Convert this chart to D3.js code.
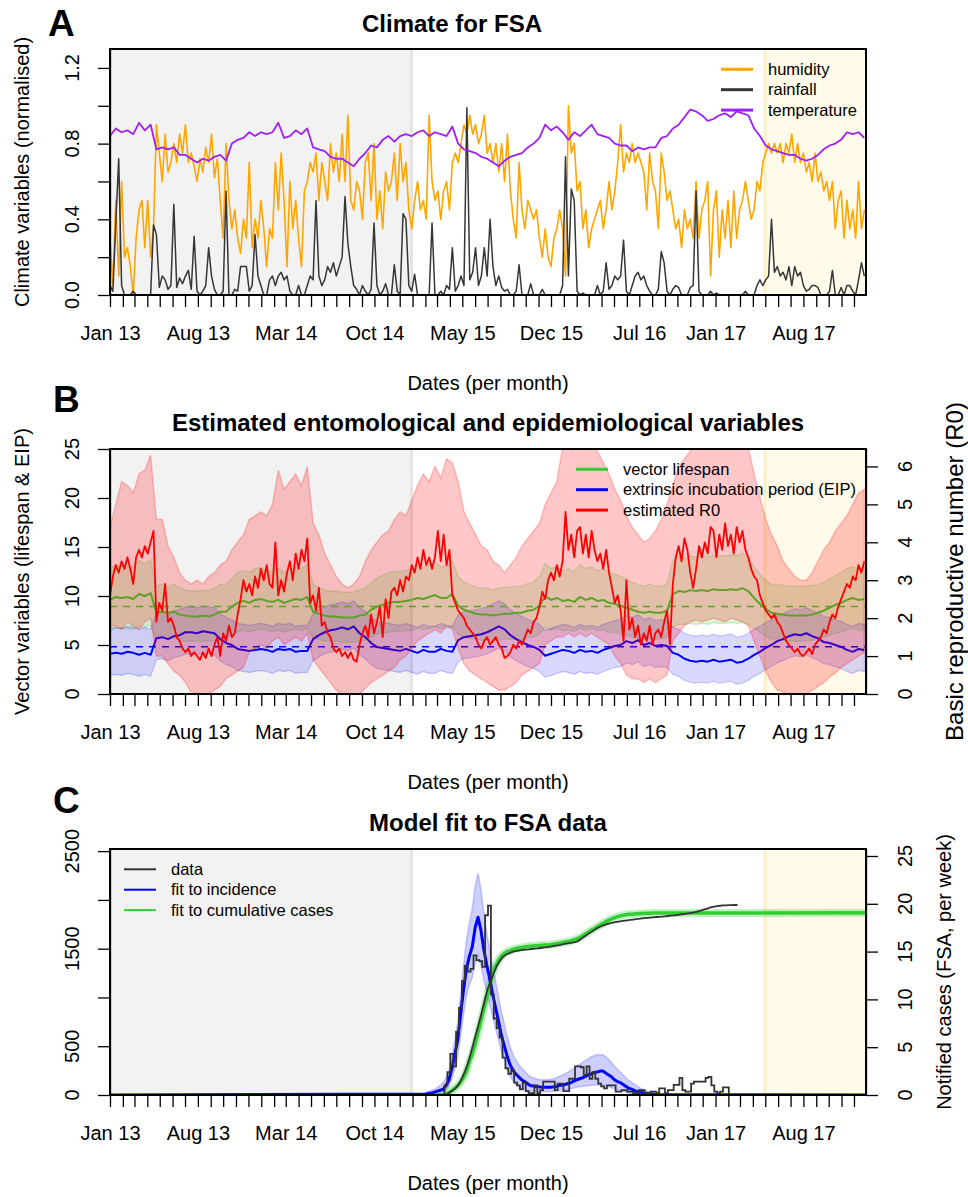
<!DOCTYPE html>
<html>
<head>
<meta charset="utf-8">
<script src="https://cdn.jsdelivr.net/npm/d3@7"></script>
<style>
  body { margin: 0; background: #fff; }
  svg text { font-family: "Liberation Sans", Arial, Helvetica, sans-serif; fill: #000; }
</style>
</head>
<body>
<div id="chart"></div>
<script>
// ---- data ----
// weekly climate series, first value 1 Jan 2013
var humidity = [
  0.3, 0.05, 0.5, 0.1, 0.6, 0.2, 0.25, 0.15, 0.0, 0.3,
  0.45, 0.5, 0.25, 0.5, 0.2, 0.35, 0.9, 0.75, 0.6, 0.85,
  0.65, 0.7, 0.8, 0.7, 0.85, 0.75, 0.9, 0.7, 0.75, 0.68,
  0.6, 0.72, 0.65, 0.78, 0.7, 0.85, 0.62, 0.72, 0.5, 0.3,
  0.8, 0.5, 0.35, 0.45, 0.3, 0.22, 0.4, 0.3, 0.7, 0.25,
  0.4, 0.3, 0.5, 0.35, 0.15, 0.35, 0.3, 0.7, 0.45, 0.75,
  0.5, 0.15, 0.6, 0.35, 0.5, 0.3, 0.15, 0.55, 0.6, 0.7,
  0.65, 0.75, 0.5, 0.7, 0.6, 0.5, 0.8, 0.65, 0.75, 0.6,
  0.85, 0.6, 0.95, 0.5, 0.45, 0.6, 0.55, 0.4, 0.7, 0.75,
  0.5, 0.8, 0.4, 0.55, 0.35, 0.65, 0.55, 0.6, 0.75, 0.5,
  0.8, 0.6, 0.7, 0.45, 0.35, 0.5, 0.6, 0.45, 0.5, 0.4,
  0.95, 0.6, 0.5, 0.55, 0.4, 0.55, 0.6, 0.45, 0.7, 0.75,
  0.7, 0.8, 0.9, 0.85, 0.95, 0.85, 0.9, 0.8, 0.85, 0.95,
  0.75, 0.8, 0.7, 0.8, 0.65, 0.8, 0.6, 0.85, 0.55, 0.4,
  0.3, 0.7, 0.45, 0.35, 0.5, 0.45, 0.4, 0.45, 0.3, 0.2,
  0.35, 0.2, 0.15, 0.3, 0.35, 0.45, 0.35, 0.1, 1.0, 0.75,
  0.8, 0.55, 0.6, 0.35, 0.45, 0.25, 0.35, 0.4, 0.45, 0.5,
  0.35, 0.45, 0.6, 0.45, 0.55, 0.7, 0.9, 0.65, 0.75, 0.7,
  0.8, 0.7, 0.75, 0.7, 0.65, 0.45, 0.75, 0.6, 0.55, 0.35,
  0.75, 0.65, 0.5, 0.55, 0.45, 0.35, 0.4, 0.25, 0.45, 0.35,
  0.4, 0.3, 0.6, 0.3, 0.45, 0.5, 0.6, 0.1, 0.45, 0.55,
  0.2, 0.45, 0.3, 0.5, 0.25, 0.55, 0.3, 0.45, 0.5, 0.6,
  0.5, 0.4, 0.45, 0.6, 0.55, 0.7, 0.75, 0.8, 0.75, 0.8,
  0.75, 0.8, 0.7, 0.8, 0.75, 0.85, 0.7, 0.8, 0.7, 0.75,
  0.65, 0.7, 0.6, 0.75, 0.6, 0.65, 0.55, 0.6, 0.5, 0.6,
  0.35, 0.5, 0.55, 0.3, 0.5, 0.35, 0.45, 0.3, 0.6, 0.35,
  0.45
];
var rainfall = [
  0.05, 0.02, 0.38, 0.72, 0.05, 0, 0, 0, 0.02, 0,
  0, 0, 0, 0, 0, 0.37, 0.32, 0.04, 0.1, 0.08,
  0.03, 0.05, 0.48, 0.04, 0.09, 0.06, 0.1, 0.13, 0.03, 0.31,
  0.02, 0, 0.02, 0.05, 0.25, 0.1, 0.03, 0, 0, 0.02,
  0.55, 0, 0, 0.03, 0.02, 0.15, 0.15, 0.15, 0.02, 0.05,
  0.32, 0.1, 0.05, 0, 0, 0.08, 0.1, 0.05, 0.1, 0.12,
  0.08, 0.1, 0.02, 0, 0, 0.05, 0, 0, 0.05, 0.1,
  0.08, 0.5, 0.1, 0.05, 0.08, 0.15, 0.12, 0.17, 0.1, 0.15,
  0.2, 0.52, 0.27, 0.15, 0.05, 0.03, 0, 0.05, 0.02, 0,
  0.03, 0.38, 0.05, 0, 0.02, 0.06, 0, 0, 0.16, 0.02,
  0, 0.43, 0.4, 0.05, 0.02, 0.11, 0, 0, 0, 0,
  0, 0.38, 0, 0, 0.02, 0, 0.05, 0.03, 0.25, 0.02,
  0.05, 0.1, 0.05, 0.99, 0.08, 0.12, 0.25, 0.05, 0.1, 0.25,
  0.1, 0.4, 0.15, 0.05, 0.1, 0.04, 0.02, 0.03, 0, 0,
  0.02, 0.16, 0, 0, 0, 0.06, 0, 0, 0, 0.03,
  0, 0, 0, 0, 0, 0, 0.05, 0.73, 0.1, 0.56,
  0.5, 0.02, 0, 0.01, 0, 0, 0, 0, 0.05, 0,
  0.02, 0.17, 0.03, 0.05, 0.1, 0.08, 0.1, 0.29, 0.02, 0,
  0.05, 0.1, 0.12, 0.08, 0.1, 0.05, 0.02, 0, 0, 0.03,
  0.23, 0.17, 0.02, 0, 0.03, 0.05, 0.04, 0, 0, 0,
  0.04, 0.05, 0.55, 0.02, 0, 0, 0, 0.02, 0, 0.01,
  0, 0, 0, 0, 0, 0, 0, 0, 0, 0.02,
  0, 0, 0, 0.05, 0.08, 0.05, 0.08, 0.1, 0.4, 0.12,
  0.15, 0.1, 0.12, 0.08, 0.15, 0.05, 0.15, 0.1, 0.12, 0.05,
  0.02, 0.03, 0.05, 0.05, 0.04, 0, 0, 0, 0.02, 0.13,
  0, 0, 0.04, 0, 0.05, 0.05, 0.02, 0, 0.08, 0.17,
  0.1
];
// fortnightly series, first value 1 Jan 2013
var temperature = [
  0.84, 0.88, 0.86, 0.87, 0.85, 0.91, 0.87, 0.9, 0.77, 0.78,
  0.77, 0.78, 0.74, 0.74, 0.72, 0.7, 0.72, 0.71, 0.73, 0.74,
  0.71, 0.8, 0.82, 0.83, 0.86, 0.84, 0.86, 0.85, 0.86, 0.91,
  0.83, 0.84, 0.87, 0.85, 0.88, 0.78, 0.77, 0.76, 0.73, 0.72,
  0.72, 0.7, 0.68, 0.72, 0.75, 0.79, 0.78, 0.82, 0.84, 0.81,
  0.84, 0.85, 0.84, 0.86, 0.87, 0.84, 0.86, 0.85, 0.84, 0.89,
  0.8, 0.77, 0.76, 0.75, 0.73, 0.72, 0.7, 0.68, 0.71, 0.73,
  0.74, 0.75, 0.78, 0.8, 0.83, 0.9, 0.87, 0.89, 0.86, 0.82,
  0.86, 0.84, 0.87, 0.9, 0.85, 0.84, 0.83, 0.8, 0.79, 0.79,
  0.76, 0.78, 0.77, 0.78, 0.78, 0.83, 0.84, 0.88, 0.9, 0.94,
  0.98, 0.97, 0.95, 0.92, 0.93, 0.95, 0.96, 0.94, 0.97, 0.96,
  0.95, 0.88, 0.84, 0.79, 0.77, 0.76, 0.75, 0.74, 0.74, 0.72,
  0.71, 0.72, 0.74, 0.77, 0.79, 0.8, 0.82, 0.86, 0.85, 0.86,
  0.83
];
var lifespan = [
  9.6, 9.9, 9.8, 9.9, 9.7, 10.2, 10.0, 10.3, 8.3, 8.4,
  8.3, 8.4, 8.1, 8.0, 7.9, 7.9, 8.0, 7.9, 8.1, 8.4,
  8.4, 8.9, 9.3, 9.5, 9.3, 9.6, 9.7, 9.5, 9.4, 9.6,
  9.3, 9.5, 9.7, 9.6, 9.9, 8.4, 8.2, 8.0, 7.9, 7.9,
  7.8, 7.8, 7.8, 8.0, 8.1, 8.6, 8.9, 9.1, 9.3, 9.4,
  9.4, 9.5, 9.6, 9.8, 9.7, 9.9, 10.1, 9.8, 9.8, 10.2,
  9.0, 8.6, 8.4, 8.2, 8.1, 8.1, 8.0, 8.1, 8.2, 8.2,
  8.3, 8.3, 8.5, 8.6, 9.0, 10.0, 9.6, 9.8, 9.5, 9.6,
  9.4, 9.9, 9.6, 9.8, 9.5, 9.6, 9.3, 9.2, 9.0, 8.8,
  8.6, 8.4, 8.3, 8.4, 8.3, 8.3, 8.5, 10.2, 10.5, 10.4,
  10.6, 10.5, 10.6, 10.5, 10.7, 10.6, 10.6, 10.7, 10.6, 10.8,
  10.5, 9.8, 9.2, 8.7, 8.3, 8.2, 8.1, 8.0, 8.0, 8.0,
  8.0, 8.1, 8.3, 8.5, 8.8, 9.1, 9.3, 9.6, 9.8, 9.6,
  9.7
];
var lifespanLow = [
  6.5, 6.7, 6.7, 6.7, 6.6, 6.9, 6.8, 7.0, 5.6, 5.7,
  5.6, 5.7, 5.5, 5.4, 5.4, 5.4, 5.4, 5.4, 5.5, 5.7,
  5.7, 6.1, 6.3, 6.5, 6.3, 6.5, 6.6, 6.5, 6.4, 6.5,
  6.3, 6.5, 6.6, 6.5, 6.7, 5.7, 5.6, 5.4, 5.4, 5.4,
  5.3, 5.3, 5.3, 5.4, 5.5, 5.8, 6.1, 6.2, 6.3, 6.4,
  6.4, 6.5, 6.5, 6.7, 6.6, 6.7, 6.9, 6.7, 6.7, 6.9,
  6.1, 5.8, 5.7, 5.6, 5.5, 5.5, 5.4, 5.5, 5.6, 5.6,
  5.6, 5.6, 5.8, 5.8, 6.1, 6.8, 6.5, 6.7, 6.5, 6.5,
  6.4, 6.7, 6.5, 6.7, 6.5, 6.5, 6.3, 6.3, 6.1, 6.0,
  5.8, 5.7, 5.6, 5.7, 5.6, 5.6, 5.8, 6.9, 7.1, 7.1,
  7.2, 7.1, 7.2, 7.1, 7.3, 7.2, 7.2, 7.3, 7.2, 7.3,
  7.1, 6.7, 6.3, 5.9, 5.6, 5.6, 5.5, 5.4, 5.4, 5.4,
  5.4, 5.5, 5.6, 5.8, 6.0, 6.2, 6.3, 6.5, 6.7, 6.5,
  6.6
];
var lifespanHigh = [
  12.8, 13.2, 13.0, 13.2, 12.9, 13.6, 13.3, 13.7, 11.0, 11.2,
  11.0, 11.2, 10.8, 10.6, 10.5, 10.5, 10.6, 10.5, 10.8, 11.2,
  11.2, 11.8, 12.4, 12.6, 12.4, 12.8, 12.9, 12.6, 12.5, 12.8,
  12.4, 12.6, 12.9, 12.8, 13.2, 11.2, 10.9, 10.6, 10.5, 10.5,
  10.4, 10.4, 10.4, 10.6, 10.8, 11.4, 11.8, 12.1, 12.4, 12.5,
  12.5, 12.6, 12.8, 13.0, 12.9, 13.2, 13.4, 13.0, 13.0, 13.6,
  12.0, 11.4, 11.2, 10.9, 10.8, 10.8, 10.6, 10.8, 10.9, 10.9,
  11.0, 11.0, 11.3, 11.4, 12.0, 13.3, 12.8, 13.0, 12.6, 12.8,
  12.5, 13.2, 12.8, 13.0, 12.6, 12.8, 12.4, 12.2, 12.0, 11.7,
  11.4, 11.2, 11.0, 11.2, 11.0, 11.0, 11.3, 13.6, 14.0, 13.8,
  14.1, 14.0, 14.1, 14.0, 14.2, 14.1, 14.1, 14.2, 14.1, 14.4,
  14.0, 13.0, 12.2, 11.6, 11.2, 11.2, 11.1, 11.0, 11.0, 11.0,
  11.0, 11.1, 11.2, 11.4, 11.7, 12.1, 12.4, 12.8, 13.0, 12.8,
  12.9
];
var eip = [
  4.1, 4.2, 4.1, 4.3, 4.2, 4.0, 4.2, 4.0, 5.7, 5.8,
  5.6, 5.9, 6.0, 6.3, 6.3, 6.2, 6.4, 6.3, 6.2, 5.6,
  5.2, 5.0, 4.6, 4.5, 4.4, 4.5, 4.6, 4.5, 4.3, 4.6,
  4.5, 4.6, 4.3, 4.4, 4.4, 5.6, 6.0, 6.3, 6.5, 6.6,
  6.8, 6.6, 6.9, 6.2, 5.8, 5.2, 4.8, 4.7, 4.6, 4.5,
  4.4, 4.6, 4.4, 4.2, 4.5, 4.3, 4.3, 4.6, 4.4, 4.3,
  5.5, 5.8, 5.9, 6.0, 6.1, 6.3, 6.6, 6.9, 6.6, 6.0,
  5.6, 5.3, 5.0, 4.8, 4.5, 3.9, 4.1, 4.3, 4.5, 4.4,
  4.2, 4.5, 4.3, 4.4, 4.2, 4.5, 4.7, 4.9, 5.0, 5.4,
  5.2, 5.5, 5.0, 5.2, 4.9, 5.0, 4.9, 4.2, 4.0, 3.6,
  3.4, 3.3, 3.4, 3.3, 3.5, 3.3, 3.4, 3.5, 3.2, 3.3,
  3.6, 4.0, 4.3, 4.7, 5.0, 5.4, 5.6, 5.9, 6.1, 6.0,
  6.2, 5.9, 5.7, 5.3, 5.2, 5.0, 4.8, 4.5, 4.3, 4.6,
  4.5
];
var eipLow = [
  1.9, 2.0, 1.9, 2.1, 2.0, 1.8, 2.0, 1.8, 3.5, 3.6,
  3.4, 3.7, 3.8, 4.1, 4.1, 4.0, 4.2, 4.1, 4.0, 3.4,
  3.0, 2.8, 2.4, 2.3, 2.2, 2.3, 2.4, 2.3, 2.1, 2.4,
  2.3, 2.4, 2.1, 2.2, 2.2, 3.4, 3.8, 4.1, 4.3, 4.4,
  4.6, 4.4, 4.7, 4.0, 3.6, 3.0, 2.6, 2.5, 2.4, 2.3,
  2.2, 2.4, 2.2, 2.0, 2.3, 2.1, 2.1, 2.4, 2.2, 2.1,
  3.3, 3.6, 3.7, 3.8, 3.9, 4.1, 4.4, 4.7, 4.4, 3.8,
  3.4, 3.1, 2.8, 2.6, 2.3, 1.7, 1.9, 2.1, 2.3, 2.2,
  2.0, 2.3, 2.1, 2.2, 2.0, 2.3, 2.5, 2.7, 2.8, 3.2,
  3.0, 3.3, 2.8, 3.0, 2.7, 2.8, 2.7, 2.0, 1.8, 1.4,
  1.2, 1.1, 1.2, 1.1, 1.3, 1.1, 1.2, 1.3, 1.0, 1.1,
  1.4, 1.8, 2.1, 2.5, 2.8, 3.2, 3.4, 3.7, 3.9, 3.8,
  4.0, 3.7, 3.5, 3.1, 3.0, 2.8, 2.6, 2.3, 2.1, 2.4,
  2.3
];
var eipHigh = [
  6.7, 6.8, 6.7, 6.9, 6.8, 6.6, 6.8, 6.6, 8.3, 8.4,
  8.2, 8.5, 8.6, 8.9, 8.9, 8.8, 9.0, 8.9, 8.8, 8.2,
  7.8, 7.6, 7.2, 7.1, 7.0, 7.1, 7.2, 7.1, 6.9, 7.2,
  7.1, 7.2, 6.9, 7.0, 7.0, 8.2, 8.6, 8.9, 9.1, 9.2,
  9.4, 9.2, 9.5, 8.8, 8.4, 7.8, 7.4, 7.3, 7.2, 7.1,
  7.0, 7.2, 7.0, 6.8, 7.1, 6.9, 6.9, 7.2, 7.0, 6.9,
  8.1, 8.4, 8.5, 8.6, 8.7, 8.9, 9.2, 9.5, 9.2, 8.6,
  8.2, 7.9, 7.6, 7.4, 7.1, 6.5, 6.7, 6.9, 7.1, 7.0,
  6.8, 7.1, 6.9, 7.0, 6.8, 7.1, 7.3, 7.5, 7.6, 8.0,
  7.8, 8.1, 7.6, 7.8, 7.5, 7.6, 7.5, 6.8, 6.6, 6.2,
  6.0, 5.9, 6.0, 5.9, 6.1, 5.9, 6.0, 6.1, 5.8, 5.9,
  6.2, 6.6, 6.9, 7.3, 7.6, 8.0, 8.2, 8.5, 8.7, 8.6,
  8.8, 8.5, 8.3, 7.9, 7.8, 7.6, 7.4, 7.1, 6.9, 7.2,
  7.1
];
// weekly R0 estimate
var r0 = [
  2.6, 3.1, 3.4, 3.2, 3.5, 3.3, 3.6, 3.3, 2.9, 3.6,
  3.8, 3.6, 3.9, 3.7, 4.0, 4.3, 1.9, 2.4, 2.2, 2.9,
  1.9, 2.0, 1.8, 1.5, 1.4, 1.2, 1.1, 1.2, 1.0, 1.1,
  1.0, 0.9, 1.1, 0.95, 1.2, 1.0, 1.3, 1.5, 1.0, 1.6,
  1.4, 1.8, 1.5, 1.6, 2.1, 2.5, 3.0, 2.7, 2.9, 2.6,
  3.1, 2.8, 3.3, 3.0, 3.4, 2.9, 2.8, 4.0, 2.6, 3.0,
  2.7, 3.2, 3.5, 3.0, 3.7, 3.3, 3.8, 3.5, 4.1, 2.4,
  2.6, 2.2, 2.8, 1.8, 1.9, 1.6, 1.5, 1.2, 1.1, 1.2,
  1.0, 1.1, 0.95, 1.1, 0.9, 0.85, 1.3, 1.6, 1.8, 1.5,
  2.1, 1.6, 1.9, 2.3, 1.5, 2.5, 2.0, 2.7, 2.8, 2.6,
  3.0, 2.7, 3.1, 3.0, 3.4, 3.2, 3.6, 3.3, 3.8, 3.4,
  3.6, 3.3, 3.6, 4.3, 3.5, 4.2, 3.4, 3.8, 2.6, 2.4,
  2.2, 2.1, 2.0, 1.8, 1.7, 1.6, 1.5, 1.3, 1.2, 1.4,
  1.5, 1.3, 1.4, 1.5, 1.3, 1.2, 0.95, 1.0, 1.1, 1.3,
  1.2, 1.4, 1.3, 1.5, 1.7, 1.6, 1.9, 2.0, 2.3, 2.7,
  2.5, 3.0, 3.2, 3.0, 3.4, 3.1, 3.5, 4.8, 3.8, 4.2,
  3.6, 4.3, 4.4, 3.7, 4.2, 3.6, 4.3, 3.8, 3.5, 3.7,
  3.3, 3.8, 3.2, 2.8, 2.4, 2.6, 2.2, 1.4, 3.0, 1.7,
  2.0, 1.5, 1.8, 1.3, 1.6, 1.4, 1.8, 1.3, 1.6, 1.7,
  1.5, 1.9, 2.2, 1.3, 2.9, 3.6, 3.9, 3.5, 4.1, 3.8,
  3.2, 2.8, 3.3, 3.9, 3.6, 4.0, 3.7, 4.4, 4.3, 3.6,
  4.2, 3.8, 4.5, 3.9, 4.2, 3.7, 4.4, 4.0, 4.3, 3.8,
  3.6, 3.3, 3.1, 3.0, 2.6, 2.4, 2.2, 2.1, 2.0, 2.1,
  1.9, 1.8, 1.6, 1.4, 1.3, 1.2, 1.1, 1.2, 1.05, 1.0,
  1.1, 1.2, 1.05, 1.3, 1.4, 1.5, 1.7, 1.6, 1.9, 2.1,
  2.0, 2.3, 2.5, 2.7, 2.9, 2.8, 3.1, 3.0, 3.4, 3.2,
  3.5
];
// fortnightly R0 interval
var r0Low = [
  1.8, 1.8, 1.7, 1.9, 1.8, 1.7, 1.9, 2.0, 1.0, 1.0,
  0.8, 0.6, 0.5, 0.3, 0.05, 0, 0, 0, 0.1, 0.2,
  0.4, 0.5, 0.6, 0.7, 1.1, 1.2, 1.3, 1.2, 1.4, 1.5,
  1.3, 1.4, 1.5, 1.4, 1.6, 0.9, 0.7, 0.5, 0.3, 0.1,
  0, 0, 0, 0, 0.15, 0.3, 0.4, 0.5, 0.6, 0.7,
  0.9, 1.0, 1.2, 1.4, 1.5, 1.6, 1.7, 1.6, 1.8, 1.7,
  1.2, 0.8, 0.6, 0.5, 0.4, 0.3, 0.2, 0.1, 0.1, 0.2,
  0.3, 0.5, 0.6, 0.7, 0.8, 1.3, 1.4, 1.5, 1.5, 1.6,
  1.5, 1.6, 1.5, 1.6, 1.5, 1.4, 1.3, 1.0, 0.8, 0.5,
  0.4, 0.4, 0.3, 0.4, 0.3, 0.4, 0.5, 1.4, 1.6, 1.8,
  1.9, 1.95, 1.9, 1.95, 2.0, 1.95, 1.9, 2.0, 1.95, 1.9,
  1.8, 1.4, 1.0, 0.6, 0.3, 0.1, 0.05, 0, 0, 0,
  0, 0.1, 0.2, 0.3, 0.45, 0.55, 0.7, 0.8, 0.9, 1.0,
  1.1
];
var r0High = [
  4.4, 5.0, 5.6, 5.5, 5.3, 5.8, 5.9, 6.3, 4.6, 4.6,
  3.9, 3.6, 3.2, 3.0, 2.9, 3.0, 2.9, 3.1, 3.2, 3.4,
  3.5, 3.8, 4.0, 4.2, 4.6, 4.7, 4.8, 4.7, 5.0, 5.9,
  5.4, 5.6, 5.8, 5.5, 6.0, 4.5, 4.2, 3.7, 3.4, 3.1,
  2.9, 2.8, 2.9, 3.1, 3.5, 3.8, 4.0, 4.2, 4.3, 4.6,
  4.8, 4.7, 5.1, 5.5, 5.8, 5.6, 6.0, 5.7, 6.2, 6.1,
  5.6, 4.8, 4.5, 4.2, 3.9, 3.8, 3.5, 3.4, 3.2, 3.4,
  3.6, 3.9, 4.1, 4.3, 4.5, 5.0, 5.3, 5.6, 6.5, 6.6,
  6.5, 6.6, 6.5, 6.6, 6.4, 6.1, 5.8, 5.4, 5.1, 4.7,
  4.4, 4.2, 4.0, 4.1, 4.3, 4.6, 5.0, 5.5, 6.0, 6.2,
  6.4, 6.6, 6.6, 6.6, 6.7, 6.6, 6.6, 6.7, 6.6, 6.6,
  6.5, 5.8, 5.2, 4.6, 4.2, 3.9, 3.5, 3.3, 3.1, 3.0,
  3.0, 3.2, 3.5, 3.8, 4.0, 4.3, 4.5, 4.7, 5.0, 5.3,
  5.4
];
var lifespanRef = 8.93;
var eipRef = 4.82;

// notified cases per week, first week 12 Mar 2015
var casesWeekly = [
  0, 1.0, 2.4, 4.3, 3.0, 6.6, 9.1, 11.9, 13.5, 12.9,
  13.2, 14.6, 14.1, 14.0, 13.4, 18.8, 19.8, 10.5, 8.0, 7.0,
  6.0, 3.9, 2.8, 2.2, 2.6, 1.3, 1.0, 0.6, 1.3, 0.4,
  0.2, 0.2, 1.0, 0.2, 0.5, 1.4, 1.4, 1.4, 1.4, 0.5,
  1.2, 1.2, 0.4, 0.4, 1.7, 1.7, 3.0, 3.0, 2.9, 2.1,
  3.0, 1.7, 2.4, 1.7, 1.2, 0.9, 0.7, 1.0, 1.0, 1.0,
  0.35, 0.35, 0.5, 0.5, 0.35, 0.35, 0.2, 0.2, 0.5, 0.5,
  0.2, 0.2, 0.35, 0.35, 0.2, 0.7, 0.7, 0.2, 0.5, 0.5,
  1.05, 1.05, 1.8, 0.5, 0.35, 0.35, 1.2, 1.4, 1.4, 1.4,
  1.4, 1.8, 1.9, 1.0, 0.35, 0.2, 0.35, 0.8, 0.8, 0
];
// cumulative notified cases, first week 19 Mar 2015
var casesCumulative = [
  0, 10, 30, 50, 75, 115, 170, 240, 320, 420,
  530, 640, 750, 870, 990, 1100, 1170, 1250, 1320, 1370,
  1410, 1435, 1450, 1462, 1472, 1478, 1483, 1487, 1490, 1493,
  1497, 1500, 1503, 1507, 1511, 1515, 1519, 1524, 1530, 1535,
  1540, 1546, 1552, 1558, 1563, 1568, 1578, 1600, 1620, 1640,
  1660, 1680, 1700, 1716, 1730, 1742, 1752, 1760, 1766, 1772,
  1777, 1782, 1787, 1791, 1795, 1799, 1803, 1806, 1810, 1813,
  1816, 1819, 1822, 1825, 1826, 1828, 1832, 1835, 1838, 1841,
  1845, 1849, 1853, 1857, 1861, 1867, 1873, 1880, 1888, 1897,
  1906, 1915, 1925, 1932, 1937, 1940, 1943, 1945, 1946, 1947,
  1948, 1948
];
// model fits, weekly from 2 Feb 2015 (zero before, flat after)
var fitIncidence = [
  0.1, 0.15, 0.2, 0.3, 0.4, 0.5, 0.6, 1.0, 1.6, 2.8,
  4.2, 5.8, 8.5, 11.0, 13.2, 14.5, 15.5, 17.5, 18.6, 17.2,
  15.2, 13.6, 12.2, 10.6, 9.2, 7.8, 6.3, 5.2, 4.1, 3.2,
  2.6, 2.2, 1.9, 1.6, 1.4, 1.2, 1.0, 0.95, 0.9, 0.85,
  0.8, 0.8, 0.8, 0.8, 0.85, 0.9, 1.0, 1.05, 1.1, 1.2,
  1.3, 1.45, 1.6, 1.7, 1.8, 1.95, 2.1, 2.2, 2.35, 2.4,
  2.5, 2.5, 2.3, 2.1, 1.9, 1.6, 1.4, 1.3, 1.1, 0.9,
  0.7, 0.6, 0.45, 0.35, 0.3, 0.2, 0.15, 0.1, 0.08, 0.05,
  0.03
];
var fitIncidenceLow = [
  0, 0, 0.05, 0.1, 0.15, 0.2, 0.3, 0.5, 0.9, 1.7,
  2.8, 4.0, 6.2, 8.4, 10.4, 11.5, 12.3, 13.8, 14.6, 13.6,
  12.0, 10.7, 9.5, 8.2, 7.0, 5.8, 4.6, 3.7, 2.8, 2.0,
  1.5, 1.1, 0.85, 0.7, 0.6, 0.5, 0.4, 0.38, 0.36, 0.35,
  0.35, 0.35, 0.35, 0.36, 0.38, 0.4, 0.45, 0.5, 0.55, 0.6,
  0.65, 0.72, 0.8, 0.85, 0.9, 0.95, 1.0, 1.0, 1.05, 1.05,
  1.05, 1.0, 0.95, 0.85, 0.75, 0.65, 0.55, 0.45, 0.38, 0.3,
  0.22, 0.16, 0.12, 0.08, 0.05, 0.03, 0.02, 0, 0, 0,
  0
];
var fitIncidenceHigh = [
  0.3, 0.4, 0.5, 0.6, 0.8, 1.0, 1.3, 1.8, 2.6, 4.0,
  5.8, 7.6, 10.5, 13.5, 16.2, 18.0, 19.5, 21.8, 23.2, 21.5,
  19.0, 17.0, 15.2, 13.5, 12.0, 10.4, 8.8, 7.5, 6.2, 5.1,
  4.3, 3.7, 3.2, 2.8, 2.5, 2.2, 1.9, 1.8, 1.7, 1.6,
  1.6, 1.6, 1.6, 1.65, 1.7, 1.8, 1.95, 2.1, 2.2, 2.4,
  2.6, 2.8, 3.0, 3.2, 3.4, 3.6, 3.8, 4.0, 4.1, 4.2,
  4.2, 4.2, 4.0, 3.7, 3.4, 3.0, 2.7, 2.4, 2.1, 1.8,
  1.5, 1.3, 1.1, 0.9, 0.7, 0.55, 0.45, 0.35, 0.25, 0.2,
  0.15
];
var fitCumulative = [
  0, 0, 0, 1, 2, 3, 5, 10, 25, 45,
  70, 95, 130, 180, 240, 340, 420, 520, 640, 760,
  880, 1000, 1120, 1250, 1320, 1380, 1420, 1450, 1470, 1480,
  1492, 1500, 1507, 1513, 1518, 1522, 1525, 1528, 1531, 1533,
  1535, 1537, 1539, 1540, 1545, 1550, 1555, 1562, 1568, 1574,
  1580, 1590, 1600, 1615, 1630, 1650, 1670, 1688, 1705, 1722,
  1740, 1758, 1775, 1790, 1805, 1817, 1828, 1836, 1842, 1848,
  1852, 1854, 1856, 1858, 1860, 1861, 1863, 1864, 1865, 1866,
  1866
];
var fitCumulativeEnd = 1868;

var monthLabels = ["Jan 13", "Aug 13", "Mar 14", "Oct 14", "May 15", "Dec 15", "Jul 16", "Jan 17", "Aug 17"];

// ---- layout ----
var svgWidth = 968;
var svgHeight = 1197;
var plotLeft = 110;
var plotRight = 866;

var startDate = new Date(2013, 0, 1);
var endDate = new Date(2017, 11, 30);
var greyEnd = new Date(2015, 0, 1);
var yellowStart = new Date(2017, 3, 28);

var svg = d3.select("#chart")
  .append("svg")
  .attr("width", svgWidth)
  .attr("height", svgHeight);

var xTime = d3.scaleTime().domain([startDate, endDate]).range([plotLeft, plotRight]);

// turn a value list into dated points
function series(from, stepDays, values) {
  return values.map((v, i) => ({ date: d3.timeDay.offset(from, i * stepDays), value: v }));
}
function band(from, stepDays, low, high) {
  return low.map((v, i) => ({ date: d3.timeDay.offset(from, i * stepDays), lo: v, hi: high[i] }));
}

function lineGen(yScale, curve) {
  return d3.line()
    .x(d => xTime(d.date))
    .y(d => yScale(d.value))
    .curve(curve || d3.curveLinear);
}
function areaGen(yScale) {
  return d3.area()
    .x(d => xTime(d.date))
    .y0(d => yScale(d.lo))
    .y1(d => yScale(d.hi));
}

var clipCount = 0;
function plotArea(top, bottom) {
  clipCount += 1;
  var id = "clip" + clipCount;
  svg.append("clipPath").attr("id", id)
    .append("rect")
    .attr("x", plotLeft).attr("y", top)
    .attr("width", plotRight - plotLeft).attr("height", bottom - top);

  var g = svg.append("g").attr("clip-path", `url(#${id})`);
  // fitted period (grey) and forecast period (yellow)
  g.append("rect")
    .attr("x", plotLeft).attr("y", top)
    .attr("width", xTime(greyEnd) - plotLeft).attr("height", bottom - top)
    .attr("fill", "#f2f2f2");
  g.append("line")
    .attr("x1", xTime(greyEnd) - 1).attr("x2", xTime(greyEnd) - 1)
    .attr("y1", top).attr("y2", bottom)
    .attr("stroke", "#e4e4e4").attr("stroke-width", 3);
  g.append("rect")
    .attr("x", xTime(yellowStart)).attr("y", top)
    .attr("width", plotRight - xTime(yellowStart)).attr("height", bottom - top)
    .attr("fill", "#fffaea");
  g.append("line")
    .attr("x1", xTime(yellowStart) + 1).attr("x2", xTime(yellowStart) + 1)
    .attr("y1", top).attr("y2", bottom)
    .attr("stroke", "#fbf0c4").attr("stroke-width", 3);
  return g;
}

function xAxis(top, bottom) {
  var fmt = d3.timeFormat("%b %y");
  var months = d3.timeMonth.range(startDate, new Date(2018, 0, 1));
  var axis = d3.axisBottom(xTime)
    .tickValues(months)
    .tickSize(12)
    .tickSizeOuter(0)
    .tickFormat(d => monthLabels.includes(fmt(d)) ? fmt(d) : "");
  var ax = svg.append("g")
    .attr("transform", `translate(0, ${bottom})`)
    .call(axis);
  ax.select(".domain").remove();
  ax.selectAll("line").attr("stroke", "#000").attr("stroke-width", 1.3);
  ax.selectAll("text")
    .attr("y", 45).attr("dy", 0)
    .attr("font-size", 20)
    .attr("fill", "#000");

  svg.append("text")
    .attr("x", (plotLeft + plotRight) / 2)
    .attr("y", bottom + 95)
    .attr("text-anchor", "middle")
    .attr("font-size", 20)
    .text("Dates (per month)");
}

function yAxis(yScale, ticks, labels, side, labelX) {
  var axis = (side === "left" ? d3.axisLeft(yScale) : d3.axisRight(yScale))
    .tickValues(ticks)
    .tickSize(12)
    .tickSizeOuter(0)
    .tickFormat("");
  var ax = svg.append("g")
    .attr("transform", `translate(${side === "left" ? plotLeft : plotRight}, 0)`)
    .call(axis);
  ax.select(".domain").attr("stroke", "#000").attr("stroke-width", 1.3);
  ax.selectAll("line").attr("stroke", "#000").attr("stroke-width", 1.3);

  // R style labels, parallel to the axis
  svg.append("g").selectAll("text")
    .data(labels)
    .enter()
    .append("text")
    .attr("transform", d => `translate(${labelX}, ${yScale(d[0])}) rotate(-90)`)
    .attr("dy", "0.35em")
    .attr("text-anchor", "middle")
    .attr("font-size", 20)
    .text(d => d[1]);
}

function verticalTitle(x, y, text, size, clipId) {
  var t = svg.append("text")
    .attr("transform", `translate(${x}, ${y}) rotate(-90)`)
    .attr("dy", "0.35em")
    .attr("text-anchor", "middle")
    .attr("font-size", size)
    .text(text);
  if (clipId) t.attr("clip-path", `url(#${clipId})`);
}

function title(x, y, text) {
  svg.append("text")
    .attr("x", x).attr("y", y)
    .attr("text-anchor", "middle")
    .attr("font-size", 24)
    .attr("font-weight", "bold")
    .text(text);
}

function panelLetter(x, y, letter) {
  svg.append("text")
    .attr("x", x).attr("y", y)
    .attr("font-size", 37)
    .attr("font-weight", "bold")
    .text(letter);
}

function legend(x, y, items, width) {
  items.forEach(function(item, i) {
    var yy = y + i * 20.4;
    svg.append("line")
      .attr("x1", x).attr("x2", x + 32)
      .attr("y1", yy).attr("y2", yy)
      .attr("stroke", item[1]).attr("stroke-width", width);
    svg.append("text")
      .attr("x", x + 47).attr("y", yy)
      .attr("dy", "0.35em")
      .attr("font-size", 16.5)
      .text(item[0]);
  });
}

function box(top, bottom) {
  svg.append("rect")
    .attr("x", plotLeft).attr("y", top)
    .attr("width", plotRight - plotLeft).attr("height", bottom - top)
    .attr("fill", "none")
    .attr("stroke", "#000")
    .attr("stroke-width", 2);
}

// ---- A: climate ----
var aTop = 49, aBottom = 295;
var yClimate = d3.scaleLinear().domain([0, 1.3]).range([aBottom, aTop]);
var gA = plotArea(aTop, aBottom);

gA.append("path")
  .datum(series(startDate, 7, humidity))
  .attr("d", lineGen(yClimate))
  .attr("fill", "none").attr("stroke", "#ffa500").attr("stroke-width", 1.6)
  .attr("stroke-linejoin", "round");
gA.append("path")
  .datum(series(startDate, 7, rainfall))
  .attr("d", lineGen(yClimate))
  .attr("fill", "none").attr("stroke", "#363636").attr("stroke-width", 1.5)
  .attr("stroke-linejoin", "round");
gA.append("path")
  .datum(series(startDate, 14, temperature))
  .attr("d", lineGen(yClimate))
  .attr("fill", "none").attr("stroke", "#a020f0").attr("stroke-width", 1.8)
  .attr("stroke-linejoin", "round");

legend(721, 69.3, [["humidity", "#ffa500"], ["rainfall", "#363636"], ["temperature", "#a020f0"]], 3);
xAxis(aTop, aBottom);
yAxis(yClimate, [0, 0.2, 0.4, 0.6, 0.8, 1.0, 1.2],
  [[0, "0.0"], [0.4, "0.4"], [0.8, "0.8"], [1.2, "1.2"]], "left", 72);
verticalTitle(22, (aTop + aBottom) / 2, "Climate variables (normalised)", 20);
title(452, 32, "Climate for FSA");
panelLetter(48, 36, "A");
box(aTop, aBottom);

// ---- B: entomological / epidemiological ----
var bTop = 449, bBottom = 694;
var yVector = d3.scaleLinear().domain([0, 25]).range([bBottom, bTop]);
var yR0 = d3.scaleLinear().domain([0, 6.46]).range([bBottom, bTop]);
var gB = plotArea(bTop, bBottom);

gB.append("path")
  .datum(band(startDate, 14, lifespanLow, lifespanHigh))
  .attr("d", areaGen(yVector))
  .attr("fill", "rgba(50,205,50,0.18)")
  .attr("stroke", "rgba(50,205,50,0.25)").attr("stroke-width", 1.2);
gB.append("path")
  .datum(band(startDate, 14, eipLow, eipHigh))
  .attr("d", areaGen(yVector))
  .attr("fill", "rgba(0,0,255,0.15)")
  .attr("stroke", "rgba(0,0,255,0.2)").attr("stroke-width", 1.2);

gB.append("line")
  .attr("x1", plotLeft).attr("x2", plotRight)
  .attr("y1", yVector(lifespanRef)).attr("y2", yVector(lifespanRef))
  .attr("stroke", "#32cd32").attr("stroke-width", 1.3).attr("stroke-dasharray", "7,6");
gB.append("line")
  .attr("x1", plotLeft).attr("x2", plotRight)
  .attr("y1", yVector(eipRef)).attr("y2", yVector(eipRef))
  .attr("stroke", "#0000ff").attr("stroke-width", 1.3).attr("stroke-dasharray", "7,6");

gB.append("path")
  .datum(series(startDate, 14, lifespan))
  .attr("d", lineGen(yVector))
  .attr("fill", "none").attr("stroke", "#32cd32").attr("stroke-width", 2)
  .attr("stroke-linejoin", "round");
gB.append("path")
  .datum(series(startDate, 14, eip))
  .attr("d", lineGen(yVector))
  .attr("fill", "none").attr("stroke", "#0000ff").attr("stroke-width", 2)
  .attr("stroke-linejoin", "round");

gB.append("path")
  .datum(band(startDate, 14, r0Low, r0High))
  .attr("d", areaGen(yR0))
  .attr("fill", "rgba(255,0,0,0.22)")
  .attr("stroke", "rgba(255,0,0,0.22)").attr("stroke-width", 1.5);
gB.append("path")
  .datum(series(startDate, 7, r0))
  .attr("d", lineGen(yR0))
  .attr("fill", "none").attr("stroke", "#ff0000").attr("stroke-width", 1.8)
  .attr("stroke-linejoin", "round");

legend(576, 469.3, [["vector lifespan", "#32cd32"], ["extrinsic incubation period (EIP)", "#0000ff"], ["estimated R0", "#ff0000"]], 3);
xAxis(bTop, bBottom);
yAxis(yVector, [0, 5, 10, 15, 20, 25],
  [[0, "0"], [5, "5"], [10, "10"], [15, "15"], [20, "20"], [25, "25"]], "left", 72);
yAxis(yR0, [0, 1, 2, 3, 4, 5, 6],
  [[0, "0"], [1, "1"], [2, "2"], [3, "3"], [4, "4"], [5, "5"], [6, "6"]], "right", 905);
verticalTitle(22, (bTop + bBottom) / 2, "Vector variables (lifespan & EIP)", 20);
verticalTitle(955, (bTop + bBottom) / 2, "Basic reproductive number (R0)", 24);
title((plotLeft + plotRight) / 2, 431, "Estimated entomological and epidemiological variables");
panelLetter(53, 412, "B");
box(bTop, bBottom);

// ---- C: model fit ----
var cTop = 849, cBottom = 1095;
var yCum = d3.scaleLinear().domain([0, 2522]).range([cBottom, cTop]);
var yWeek = d3.scaleLinear().domain([0, 25.73]).range([cBottom, cTop]);
var gC = plotArea(cTop, cBottom);

var fitStart = new Date(2015, 1, 2);
var incBand = band(fitStart, 7, fitIncidenceLow, fitIncidenceHigh);
var incLine = [{ date: startDate, value: 0 }]
  .concat(series(fitStart, 7, fitIncidence))
  .concat([{ date: endDate, value: 0 }]);
var cumLine = series(fitStart, 7, fitCumulative)
  .concat([{ date: endDate, value: fitCumulativeEnd }]);

gC.append("path")
  .datum(incBand)
  .attr("d", areaGen(yWeek))
  .attr("fill", "rgba(60,60,255,0.25)")
  .attr("stroke", "rgba(60,60,255,0.25)").attr("stroke-width", 1.5);
// interval of the cumulative fit, drawn as a wide pale stroke
gC.append("path")
  .datum(cumLine.filter(d => d.value > 5))
  .attr("d", lineGen(yCum))
  .attr("fill", "none").attr("stroke", "rgba(50,205,50,0.3)").attr("stroke-width", 8);
gC.append("path")
  .datum(cumLine)
  .attr("d", lineGen(yCum))
  .attr("fill", "none").attr("stroke", "#32cd32").attr("stroke-width", 3.5);
gC.append("path")
  .datum(incLine)
  .attr("d", lineGen(yWeek))
  .attr("fill", "none").attr("stroke", "#0000ff").attr("stroke-width", 3)
  .attr("stroke-linejoin", "round");
gC.append("path")
  .datum(series(new Date(2015, 2, 19), 7, casesCumulative))
  .attr("d", lineGen(yCum))
  .attr("fill", "none").attr("stroke", "#333").attr("stroke-width", 1.8);
gC.append("path")
  .datum(series(new Date(2015, 2, 12), 7, casesWeekly))
  .attr("d", lineGen(yWeek, d3.curveStepAfter))
  .attr("fill", "none").attr("stroke", "#333").attr("stroke-width", 1.8);

legend(124, 869.3, [["data", "#333"], ["fit to incidence", "#0000ff"], ["fit to cumulative cases", "#32cd32"]], 2);
xAxis(cTop, cBottom);
yAxis(yCum, [0, 500, 1000, 1500, 2000, 2500],
  [[0, "0"], [500, "500"], [1500, "1500"], [2500, "2500"]], "left", 72);
yAxis(yWeek, [0, 5, 10, 15, 20, 25],
  [[0, "0"], [5, "5"], [10, "10"], [15, "15"], [20, "20"], [25, "25"]], "right", 905);

// the long left title runs off the top of its panel in the original
svg.append("clipPath").attr("id", "titleClipC")
  .append("rect").attr("x", 0).attr("y", 797).attr("width", 100).attr("height", 400);
verticalTitle(22, (cTop + cBottom) / 2, "Cumulative notified cases (FSA, per week)", 20, "titleClipC");
verticalTitle(944, (cTop + cBottom) / 2, "Notified cases (FSA, per week)", 20);
title((plotLeft + plotRight) / 2, 831, "Model fit to FSA data");
panelLetter(53, 813, "C");
box(cTop, cBottom);
</script>
</body>
</html>
